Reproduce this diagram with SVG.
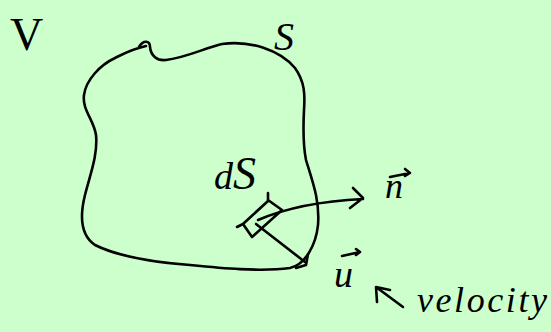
<svg xmlns="http://www.w3.org/2000/svg" width="551" height="332" viewBox="0 0 551 332">
<style>
.ink{fill:none;stroke:#000;stroke-width:2.6;stroke-linecap:round;stroke-linejoin:round}
.lbl{font-family:"Liberation Serif",serif;fill:#000}
</style>
<rect width="551" height="332" fill="#ccffcc"/>
<g id="surface">
<path class="ink" d="M139,47 C143,40 150,40 150,47 C151,56 157,61 166,60 C185,58 205,48 222,44 C250,40 280,50 295,68 C305,82 305,95 304,110 C303,130 303,145 306,160 C312,180 320,200 318,225 C316,245 305,265 290,268 C260,272 220,268 190,265 C150,262 115,255 95,245 C80,235 80,215 85,195 C90,175 98,155 96,135 C94,120 82,110 84,95 C86,80 100,65 115,58 C125,53 132,49 146,46"/>
</g>
<g id="patch">
<path class="ink" d="M237,227 L243,224 L268,201 L268,193 M268,200 L282,210 L252,237 L243,224"/>
</g>
<g id="connectors">
<path class="ink" d="M258,220 Q300,202 363,199 M353,188 L363,198 L350,208"/>
<path class="ink" d="M256,224 L305,262 M308,254 L306,265 L296,268"/>
<path class="ink" d="M403,307 L376,287 M377,302 L376,287 L390,290"/>
<path class="ink" d="M390,177 L410,173 M405,169 L410,173 L405,176"/>
<path class="ink" d="M342,256 L360,252 M356,249 L360,252 L356,255"/>
</g>
<g id="labels">
<text class="lbl" x="10" y="50" font-size="46" font-family="Liberation Sans">V</text>
<text class="lbl" x="274" y="50" font-size="40" font-style="italic">S</text>
<text class="lbl" x="214" y="189" font-size="38" font-style="italic">d<tspan font-size="46">S</tspan></text>
<text class="lbl" x="385" y="198" font-size="36" font-style="italic">n</text>
<text class="lbl" x="334" y="287" font-size="38" font-style="italic">u</text>
<text class="lbl" x="417" y="312" font-size="36" font-style="italic" textLength="130" lengthAdjust="spacing">velocity</text>
</g>
</svg>
